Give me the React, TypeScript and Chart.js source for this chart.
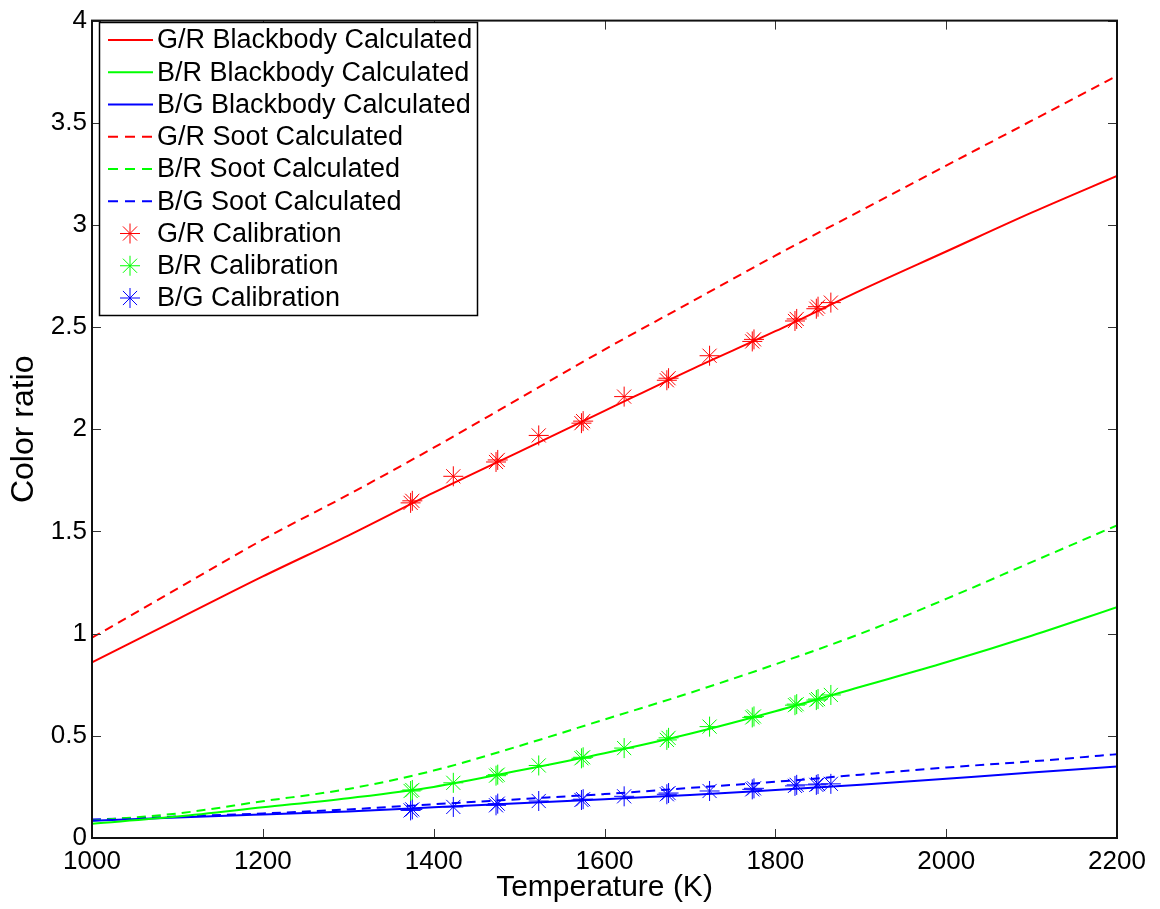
import { useEffect, useRef } from "react";
import { Chart, registerables } from "chart.js";

Chart.register(...registerables);

// Temperatures (K) for the calculated curves
const temps = [1000, 1100, 1200, 1300, 1400, 1500, 1600, 1700, 1800, 1900, 2000, 2100, 2200];
const grBlackbody = [0.86, 1.07, 1.28, 1.48, 1.69, 1.89, 2.09, 2.29, 2.48, 2.68, 2.87, 3.06, 3.24];
const brBlackbody = [0.07, 0.105, 0.15, 0.195, 0.25, 0.33, 0.415, 0.51, 0.62, 0.74, 0.86, 0.99, 1.13];
const bgBlackbody = [0.085, 0.1, 0.115, 0.13, 0.15, 0.17, 0.19, 0.21, 0.235, 0.26, 0.29, 0.32, 0.35];
const grSoot = [0.98, 1.22, 1.46, 1.68, 1.91, 2.15, 2.39, 2.62, 2.85, 3.07, 3.29, 3.51, 3.73];
const brSoot = [0.085, 0.12, 0.18, 0.24, 0.33, 0.45, 0.58, 0.71, 0.85, 1.0, 1.17, 1.35, 1.53];
const bgSoot = [0.09, 0.105, 0.12, 0.14, 0.165, 0.19, 0.215, 0.245, 0.275, 0.31, 0.345, 0.375, 0.41];

// Calibration measurements
const calTemps = [1373, 1375, 1423, 1473, 1475, 1523, 1573, 1575, 1623, 1673, 1675, 1723, 1773, 1775, 1823, 1825, 1848, 1850, 1865];
const grCal = [1.64, 1.65, 1.77, 1.84, 1.85, 1.97, 2.03, 2.04, 2.16, 2.24, 2.25, 2.36, 2.43, 2.44, 2.53, 2.54, 2.59, 2.6, 2.62];
const brCal = [0.23, 0.235, 0.27, 0.305, 0.31, 0.355, 0.39, 0.395, 0.44, 0.48, 0.49, 0.545, 0.59, 0.595, 0.65, 0.655, 0.675, 0.68, 0.7];
const bgCal = [0.135, 0.14, 0.152, 0.16, 0.168, 0.181, 0.186, 0.19, 0.204, 0.214, 0.22, 0.23, 0.238, 0.243, 0.255, 0.26, 0.26, 0.264, 0.265];

const xTicks = [1000, 1200, 1400, 1600, 1800, 2000, 2200];
const yTicks = [0, 0.5, 1, 1.5, 2, 2.5, 3, 3.5, 4];

const legendLabels = [
  "G/R Blackbody Calculated",
  "B/R Blackbody Calculated",
  "B/G Blackbody Calculated",
  "G/R Soot Calculated",
  "B/R Soot Calculated",
  "B/G Soot Calculated",
  "G/R Calibration",
  "B/R Calibration",
  "B/G Calibration",
];

const RED = "#ff0000";
const GREEN = "#00ff00";
const BLUE = "#0000ff";
const FONT = "'Liberation Sans', Arial, Helvetica, sans-serif";
const DASH = [9, 6];

const pts = (xs: number[], ys: number[]) => xs.map((x, i) => ({ x, y: ys[i] }));

const lineDs = (label: string, ys: number[], color: string, dashed: boolean) => ({
  label,
  data: pts(temps, ys),
  showLine: true,
  borderColor: color,
  backgroundColor: color,
  borderWidth: 2,
  borderDash: dashed ? DASH : [],
  pointRadius: 0,
  cubicInterpolationMode: "monotone" as const,
});

const starDs = (label: string, ys: number[], color: string) => ({
  label,
  data: pts(calTemps, ys),
  showLine: false,
  borderColor: color,
  backgroundColor: color,
  pointStyle: "star" as const,
  pointRadius: 10,
  pointBorderWidth: 1,
});

function drawStar(ctx: CanvasRenderingContext2D, x: number, y: number, r: number, color: string) {
  ctx.save();
  ctx.strokeStyle = color;
  ctx.lineWidth = 1;
  ctx.beginPath();
  for (let k = 0; k < 4; k++) {
    const a = (k * Math.PI) / 4;
    ctx.moveTo(x - Math.cos(a) * r, y - Math.sin(a) * r);
    ctx.lineTo(x + Math.cos(a) * r, y + Math.sin(a) * r);
  }
  ctx.stroke();
  ctx.restore();
}

const framePlugin = {
  id: "frame",
  afterDraw(chart: any) {
    const { ctx, chartArea } = chart;
    const { left, right, top, bottom } = chartArea;
    const xs = chart.scales.x;
    const ys = chart.scales.y;
    ctx.save();
    // inward ticks
    ctx.strokeStyle = "#333333";
    ctx.lineWidth = 1;
    const tl = 9;
    ctx.beginPath();
    xTicks.forEach((v) => {
      const px = Math.round(xs.getPixelForValue(v)) + 0.5;
      ctx.moveTo(px, bottom);
      ctx.lineTo(px, bottom - tl);
      ctx.moveTo(px, top);
      ctx.lineTo(px, top + tl);
    });
    yTicks.forEach((v) => {
      const py = Math.round(ys.getPixelForValue(v)) + 0.5;
      ctx.moveTo(left, py);
      ctx.lineTo(left + tl, py);
      ctx.moveTo(right, py);
      ctx.lineTo(right - tl, py);
    });
    ctx.stroke();
    // box
    ctx.strokeStyle = "#111111";
    ctx.lineWidth = 2;
    ctx.strokeRect(left, top, right - left, bottom - top);

    // legend
    const bx = 99.5, by = 22.5, bw = 378, bh = 293;
    ctx.fillStyle = "#ffffff";
    ctx.fillRect(bx, by, bw, bh);
    ctx.strokeStyle = "#000000";
    ctx.lineWidth = 1.5;
    ctx.strokeRect(bx, by, bw, bh);
    const colors = [RED, GREEN, BLUE, RED, GREEN, BLUE, RED, GREEN, BLUE];
    ctx.font = `27px ${FONT}`;
    ctx.textBaseline = "middle";
    ctx.textAlign = "left";
    legendLabels.forEach((lab, i) => {
      const y = 40 + i * 32.25;
      if (i < 6) {
        ctx.save();
        ctx.strokeStyle = colors[i];
        ctx.lineWidth = 2;
        ctx.setLineDash(i >= 3 ? [10, 7] : []);
        ctx.beginPath();
        ctx.moveTo(108, y);
        ctx.lineTo(153, y);
        ctx.stroke();
        ctx.restore();
      } else {
        drawStar(ctx, 130, y, 10, colors[i]);
      }
      ctx.fillStyle = "#000000";
      ctx.fillText(lab, 157, y + 1);
    });
    ctx.restore();
  },
};

export default function App() {
  const ref = useRef<HTMLCanvasElement>(null);
  useEffect(() => {
    const chart = new Chart(ref.current as HTMLCanvasElement, {
      type: "scatter",
      data: {
        datasets: [
          lineDs(legendLabels[0], grBlackbody, RED, false),
          lineDs(legendLabels[1], brBlackbody, GREEN, false),
          lineDs(legendLabels[2], bgBlackbody, BLUE, false),
          lineDs(legendLabels[3], grSoot, RED, true),
          lineDs(legendLabels[4], brSoot, GREEN, true),
          lineDs(legendLabels[5], bgSoot, BLUE, true),
          starDs(legendLabels[6], grCal, RED),
          starDs(legendLabels[7], brCal, GREEN),
          starDs(legendLabels[8], bgCal, BLUE),
        ] as any,
      },
      options: {
        responsive: false,
        animation: false,
        layout: { padding: { top: 14, right: 43, left: 0, bottom: 0 } },
        plugins: {
          legend: { display: false },
          tooltip: { enabled: false },
        },
        scales: {
          x: {
            type: "linear",
            min: 1000,
            max: 2200,
            afterFit: (axis: any) => {
              axis.height = 71;
            },
            afterBuildTicks: (axis: any) => {
              axis.ticks = xTicks.map((v) => ({ value: v }));
            },
            grid: { display: false, drawTicks: false },
            border: { display: false },
            ticks: {
              padding: 8,
              color: "#000000",
              font: { family: FONT, size: 26 },
              maxRotation: 0,
              autoSkip: false,
              callback: (v: any) => String(v),
            },
            title: {
              display: true,
              text: "Temperature (K)",
              color: "#000000",
              font: { family: FONT, size: 30 },
              padding: { top: 0, bottom: 3 },
            },
          },
          y: {
            type: "linear",
            min: 0,
            max: 4,
            afterFit: (axis: any) => {
              axis.width = 92;
            },
            afterBuildTicks: (axis: any) => {
              axis.ticks = yTicks.map((v) => ({ value: v }));
            },
            grid: { display: false, drawTicks: false },
            border: { display: false },
            ticks: {
              padding: 5,
              color: "#000000",
              font: { family: FONT, size: 26 },
              autoSkip: false,
              callback: (v: any) => String(v),
            },
            title: {
              display: true,
              text: "Color ratio",
              color: "#000000",
              font: { family: FONT, size: 32 },
              padding: { top: 5, bottom: 0 },
            },
          },
        },
      },
      plugins: [framePlugin],
    });
    return () => chart.destroy();
  }, []);
  return (
    <div style={{ position: "fixed", left: 0, top: 0, width: 1160, height: 909, background: "#ffffff" }}>
      <canvas ref={ref} width={1160} height={909} style={{ display: "block" }} />
    </div>
  );
}
